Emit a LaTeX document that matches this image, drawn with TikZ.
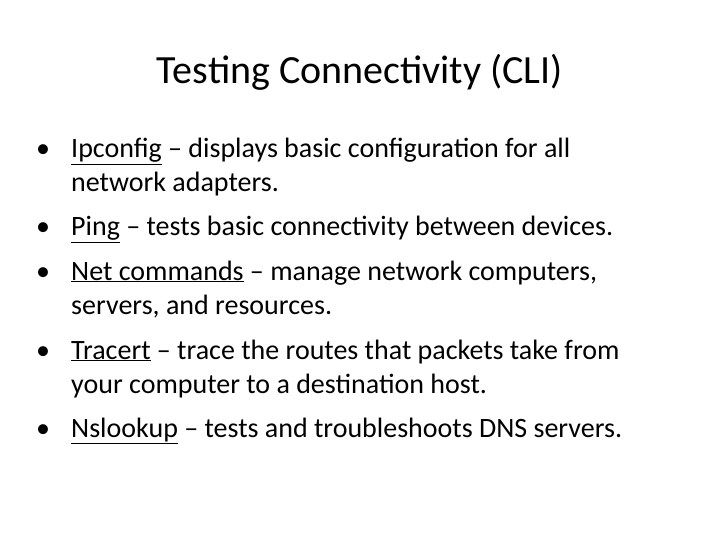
\documentclass[tikz,border=0pt]{standalone}
\usepackage{fontspec}
\setmainfont{Carlito}
\begin{document}
\begin{tikzpicture}[x=1pt,y=-1pt,
  line/.style={anchor=base west,inner sep=0pt,font=\fontsize{28}{34}\selectfont},
  bul/.style={anchor=base west,inner sep=0pt,font=\fontsize{28}{34}\selectfont}]
\useasboundingbox (0,0) rectangle (720,540);
\node[anchor=base,inner sep=0pt,font=\fontsize{40}{48}\selectfont] (title) at (360,84) {Testing Connectivity (CLI)};
\foreach \n/\y in {b1/158,b2/236,b3/280,b4/359,b5/437}{\node[bul] (\n) at (36,\y) {•};}
\node[line] (l1) at (71,158) {\underline{Ipconfig} – displays basic configuration for all};
\node[line] (l2) at (71,192) {network adapters.};
\node[line] (l3) at (71,236) {\underline{Ping} – tests basic connectivity between devices.};
\node[line] (l4) at (71,280) {\underline{Net commands} – manage network computers,};
\node[line] (l5) at (71,314) {servers, and resources.};
\node[line] (l6) at (71,359) {\underline{Tracert} – trace the routes that packets take from};
\node[line] (l7) at (71,393) {your computer to a destination host.};
\node[line] (l8) at (71,437) {\underline{Nslookup} – tests and troubleshoots DNS servers.};
\end{tikzpicture}
\end{document}
